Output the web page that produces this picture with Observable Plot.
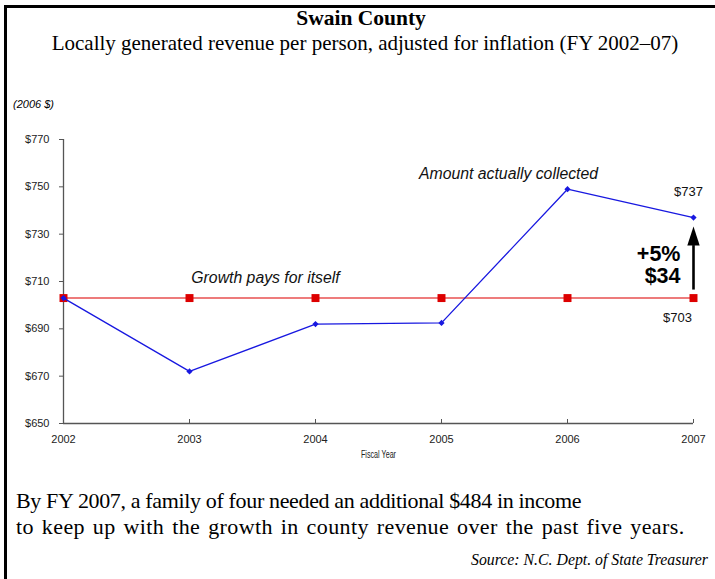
<!DOCTYPE html>
<html><head><meta charset="utf-8">
<script src="https://cdn.jsdelivr.net/npm/d3@7"></script>
<script src="https://cdn.jsdelivr.net/npm/@observablehq/plot@0.6"></script>
<style>
body{margin:0;background:#fff;}
#wrap{position:relative;width:715px;height:579px;overflow:hidden;background:#fff;}
#chart{position:absolute;left:0;top:0;}
#frame{position:absolute;left:4px;top:5px;width:900px;height:900px;border-top:3px solid #000;border-left:3px solid #000;pointer-events:none;}
.t{position:absolute;white-space:nowrap;color:#000;}
.serif{font-family:"Liberation Serif","Times New Roman",serif;}
#title{left:0;width:722px;text-align:center;top:6px;line-height:24px;font-size:21.5px;font-weight:bold;}
#subtitle{left:0;width:730px;text-align:center;top:30px;line-height:26px;font-size:21px;}
#unit{left:13px;top:97px;line-height:14px;font-size:11px;font-style:italic;font-family:"Liberation Sans",Arial,sans-serif;}
#note1{left:16px;top:488px;line-height:26px;font-size:22px;letter-spacing:-0.35px;}
#note2{left:16px;top:514px;line-height:26px;font-size:22px;letter-spacing:0.4px;word-spacing:2px;}
#source{right:7px;top:550px;line-height:20px;font-size:15.8px;font-style:italic;}
</style></head>
<body><div id="wrap">
<div id="chart"></div>
<div id="frame"></div>
<div class="t serif" id="title">Swain County</div>
<div class="t serif" id="subtitle">Locally generated revenue per person, adjusted for inflation (FY 2002–07)</div>
<div class="t" id="unit">(2006 $)</div>
<div class="t serif" id="note1">By FY 2007, a family of four needed an additional $484 in income</div>
<div class="t serif" id="note2">to keep up with the growth in county revenue over the past five years.</div>
<div class="t serif" id="source">Source: N.C. Dept. of State Treasurer</div>
</div>
<script>
// ---- data ----
const years = [2002, 2003, 2004, 2005, 2006, 2007];
const collected = [703, 672, 692, 692.5, 749, 737];   // Amount actually collected
const growthPays = [703, 703, 703, 703, 703, 703];    // Growth pays for itself
const yTicks = [650, 670, 690, 710, 730, 750, 770];
const seriesLabels = ["Amount actually collected", "Growth pays for itself"];
const xLabel = "Fiscal Year";

// ---- derived tables ----
const actual = years.map((y, i) => ({year: y, value: collected[i]}));
const growth = years.map((y, i) => ({year: y, value: growthPays[i]}));
const last = actual[actual.length - 1];
const lastG = growth[growth.length - 1];
const diff = Math.round(last.value - lastG.value);
const pct = Math.round((last.value - lastG.value) / lastG.value * 100);

const arrowHead = {
  draw(ctx) { ctx.moveTo(0, -19); ctx.lineTo(6.2, 0); ctx.lineTo(-6.2, 0); ctx.closePath(); }
};

const sans = "'Liberation Sans', Arial, sans-serif";

const chart = Plot.plot({
  width: 715, height: 579,
  marginTop: 139, marginBottom: 156, marginLeft: 63, marginRight: 22,
  style: {background: "transparent", fontFamily: sans, fontSize: "11px", color: "#222", overflow: "visible"},
  x: {domain: [2002, 2007]},
  y: {domain: [650, 770]},
  marks: [
    Plot.axisY({ticks: yTicks, tickFormat: d => "$" + d, tickSize: 4, tickPadding: 10, stroke: "#555", fill: "#222", label: null}),
    Plot.axisX({ticks: years, tickFormat: d => String(d), tickSize: 0, tickPadding: 12, fill: "#222", label: null}),
    Plot.ruleX(years, {x: d => d, y1: 650, y2: 650, insetTop: -4, stroke: "#555"}),
    Plot.ruleY([650], {stroke: "#555", strokeWidth: 1.3}),
    Plot.ruleX([2002], {stroke: "#555", strokeWidth: 1.3}),
    Plot.lineY(growth, {x: "year", y: "value", stroke: "#e85050", strokeWidth: 1.6}),
    Plot.dot(growth, {x: "year", y: "value", symbol: "square", r: 4.5, fill: "#dd0000"}),
    Plot.lineY(actual, {x: "year", y: "value", stroke: "#1818e0", strokeWidth: 1.3}),
    Plot.dot(actual, {x: "year", y: "value", symbol: "diamond2", r: 2.8, fill: "#1818e0"}),
    // arrow showing the gap
    Plot.ruleX([last], {x: "year", y1: "value", y2: () => lastG.value, insetTop: 28, insetBottom: 8, stroke: "#000", strokeWidth: 2.6}),
    Plot.dot([last], {x: "year", y: "value", symbol: arrowHead, dy: 28, fill: "#000", stroke: "none"}),
    // labels
    Plot.text([actual[4]], {x: "year", y: "value", text: () => seriesLabels[0], dx: -59, dy: -15, fontStyle: "italic", fontSize: 15.8, fill: "#111"}),
    Plot.text([growth[1]], {x: "year", y: "value", text: () => seriesLabels[1], dx: 76, dy: -20, fontStyle: "italic", fontSize: 15.8, fill: "#111"}),
    Plot.text([last], {x: "year", y: "value", text: d => "$" + d.value, dx: -5, dy: -26, fontSize: 13, fill: "#111"}),
    Plot.text([lastG], {x: "year", y: "value", text: d => "$" + d.value, dx: -16, dy: 20, fontSize: 13, fill: "#111"}),
    Plot.text([last], {x: "year", y: "value", text: () => "+" + pct + "%", textAnchor: "end", dx: -13, dy: 37, fontSize: 21.5, fontWeight: "bold", fill: "#000"}),
    Plot.text([last], {x: "year", y: "value", text: () => "$" + diff, textAnchor: "end", dx: -13, dy: 59, fontSize: 21.5, fontWeight: "bold", fill: "#000"}),
    Plot.text([xLabel], {frameAnchor: "bottom", dy: 34, fontSize: 11, fill: "#222"})
  ]
});
// condensed look for the axis title
d3.select(chart).selectAll("text")
  .filter(function() { return this.textContent === xLabel; })
  .attr("textLength", 35).attr("lengthAdjust", "spacingAndGlyphs");
document.getElementById("chart").appendChild(chart);
</script>
</body></html>
